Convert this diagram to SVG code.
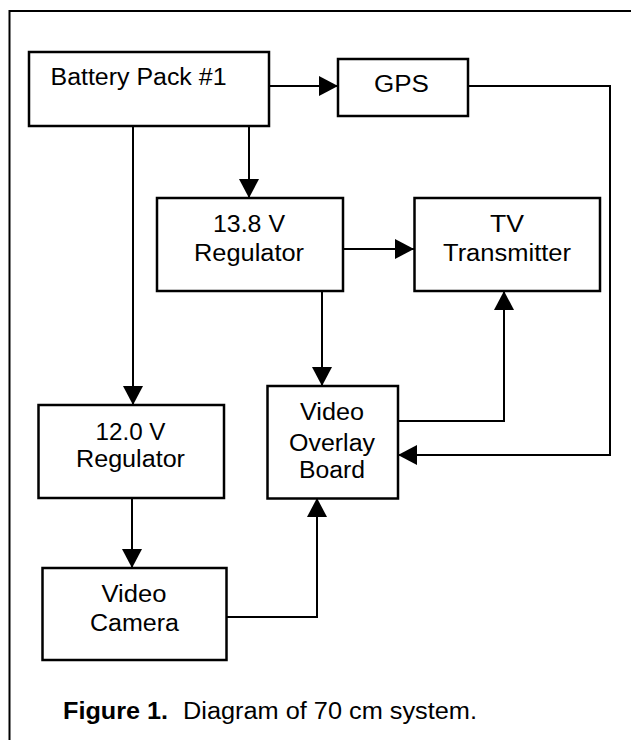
<svg xmlns="http://www.w3.org/2000/svg" width="631" height="740" viewBox="0 0 631 740">
<style>
.box{fill:#fff;stroke:#000;stroke-width:2.5}
.t{font-family:"Liberation Sans",Arial,sans-serif;font-size:23px;fill:#000;text-anchor:middle}
.l{text-anchor:start}
.cap{font-family:"Liberation Sans",Arial,sans-serif;font-size:23px;fill:#000}
.ln{fill:none;stroke:#000;stroke-width:2;marker-end:url(#ah)}
.nl{fill:none;stroke:#000;stroke-width:2}
</style>
<defs>
<marker id="ah" viewBox="0 0 19 20" refX="19" refY="10" markerWidth="19" markerHeight="20" markerUnits="userSpaceOnUse" orient="auto">
<path d="M0,0 L19,10 L0,20 z" fill="#000"/>
</marker>
</defs>
<rect width="631" height="740" fill="#fff"/>
<path class="nl" d="M9.5,740 V11 H631"/>
<g id="connectors">
<path class="ln" d="M269,86 H338"/>
<path class="ln" d="M249,126 V198"/>
<path class="ln" d="M343,249 H414"/>
<path class="ln" d="M322,291 V386"/>
<path class="ln" d="M398,421 H504 V291"/>
<path class="ln" d="M468,86 H610 V455 H398"/>
<path class="ln" d="M133,126 V405"/>
<path class="ln" d="M132,498 V568"/>
<path class="ln" d="M227,617 H317 V498"/>
</g>
<g id="battery">
<rect class="box" x="29" y="52" width="240" height="74"/>
<text class="t l" x="50.5" y="84.5" textLength="176" lengthAdjust="spacingAndGlyphs">Battery Pack #1</text>
</g>
<g id="gps">
<rect class="box" x="338" y="59" width="130" height="57"/>
<text class="t" x="401.5" y="92" textLength="55" lengthAdjust="spacingAndGlyphs">GPS</text>
</g>
<g id="reg138">
<rect class="box" x="157" y="198" width="186" height="93"/>
<text class="t" x="249" y="231.5" textLength="72" lengthAdjust="spacingAndGlyphs">13.8 V</text>
<text class="t" x="249" y="261" textLength="110" lengthAdjust="spacingAndGlyphs">Regulator</text>
</g>
<g id="tv">
<rect class="box" x="414.5" y="198" width="185.5" height="93"/>
<text class="t" x="507" y="231.5" textLength="34" lengthAdjust="spacingAndGlyphs">TV</text>
<text class="t" x="507" y="261" textLength="128" lengthAdjust="spacingAndGlyphs">Transmitter</text>
</g>
<g id="reg120">
<rect class="box" x="38.5" y="405" width="185.5" height="93"/>
<text class="t" x="130.5" y="439.5" textLength="70" lengthAdjust="spacingAndGlyphs">12.0 V</text>
<text class="t" x="130.5" y="467" textLength="109" lengthAdjust="spacingAndGlyphs">Regulator</text>
</g>
<g id="overlay">
<rect class="box" x="267.5" y="386" width="130.5" height="112.5"/>
<text class="t" x="332" y="420" textLength="64" lengthAdjust="spacingAndGlyphs">Video</text>
<text class="t" x="332" y="451" textLength="86" lengthAdjust="spacingAndGlyphs">Overlay</text>
<text class="t" x="332" y="478" textLength="66" lengthAdjust="spacingAndGlyphs">Board</text>
</g>
<g id="camera">
<rect class="box" x="42.5" y="568" width="184" height="92"/>
<text class="t" x="134" y="601.5" textLength="65" lengthAdjust="spacingAndGlyphs">Video</text>
<text class="t" x="134.5" y="630.5" textLength="89" lengthAdjust="spacingAndGlyphs">Camera</text>
</g>
<g id="caption">
<text class="cap" x="63" y="719" font-weight="bold" textLength="105" lengthAdjust="spacingAndGlyphs">Figure 1.</text>
<text class="cap" x="183" y="719" textLength="294" lengthAdjust="spacingAndGlyphs">Diagram of 70 cm system.</text>
</g>
</svg>
